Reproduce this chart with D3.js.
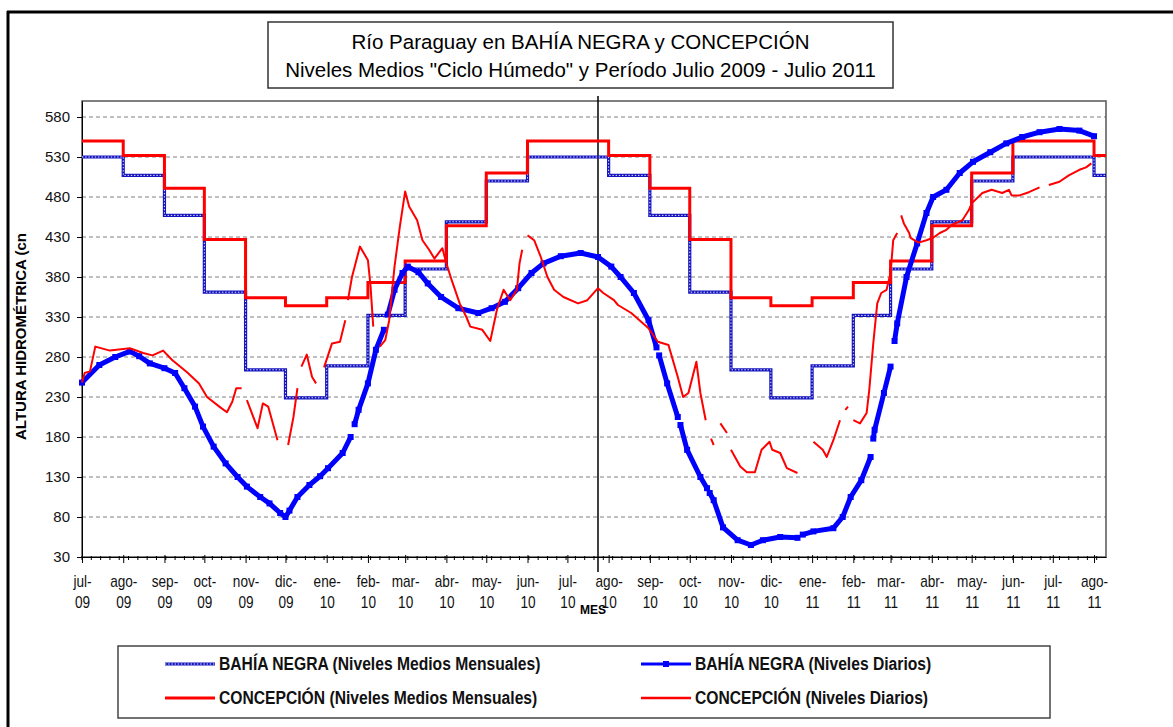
<!DOCTYPE html>
<html>
<head>
<meta charset="utf-8">
<title>Río Paraguay en Bahía Negra y Concepción</title>
<script src="https://d3js.org/d3.v7.min.js"></script>
<style>
  body { margin: 0; background: #fff; }
  svg { display: block; font-family: "Liberation Sans", Arial, sans-serif; }
</style>
</head>
<body>
<svg id="chart" width="1173" height="727"></svg>
<script>
// tick labels
const xTickLabels = ["jul-09","ago-09","sep-09","oct-09","nov-09","dic-09","ene-10","feb-10","mar-10","abr-10","may-10","jun-10",
  "jul-10","ago-10","sep-10","oct-10","nov-10","dic-10","ene-11","feb-11","mar-11","abr-11","may-11","jun-11","jul-11","ago-11"];
const yTicks = [30, 80, 130, 180, 230, 280, 330, 380, 430, 480, 530, 580];

// monthly mean levels ("ciclo húmedo"), one value per month from jul-09
const bahiaMonthly = [530,507,457,361,264,229,269,332,390,449,500,530,530,507,457,361,264,229,269,332,390,449,500,530,530,507];
const concepMonthly = [550,532,491,427,354,344,354,373,400,444,510,550,550,532,491,427,354,344,354,373,400,444,510,550,550,532];

// daily levels (null = gap)
const bahiaDaily = [
  ["2009-07-01",248],["2009-07-14",270],["2009-07-26",280],["2009-08-06",287],["2009-08-13",281],["2009-08-21",272],
  ["2009-09-01",266],["2009-09-09",260],["2009-09-16",241],["2009-09-24",218],["2009-09-30",193],["2009-10-08",168],
  ["2009-10-17",147],["2009-10-26",130],["2009-11-02",118],["2009-11-12",105],["2009-11-19",97],["2009-11-27",85],
  ["2009-12-01",80],["2009-12-04",88],["2009-12-10",105],["2009-12-19",120],["2009-12-27",131],["2010-01-02",141],
  ["2010-01-13",160],["2010-01-19",180],["2010-01-20",null],["2010-01-22",196],["2010-01-25",214],["2010-02-01",247],
  ["2010-02-07",289],["2010-02-13",314],["2010-02-14",null],["2010-02-16",333],["2010-02-21",364],["2010-02-27",385],
  ["2010-03-03",393],["2010-03-11",386],["2010-03-18",372],["2010-03-28",355],["2010-04-10",341],["2010-04-25",335],
  ["2010-05-05",341],["2010-05-15",349],["2010-05-25",366],["2010-06-04",385],["2010-06-13",397],["2010-06-26",406],
  ["2010-07-11",410],["2010-07-24",405],["2010-08-03",393],["2010-08-10",380],["2010-08-20",360],["2010-08-31",326],
  ["2010-09-06",292],["2010-09-07",null],["2010-09-08",282],["2010-09-14",247],["2010-09-22",205],["2010-09-23",null],
  ["2010-09-24",195],["2010-09-29",164],["2010-10-09",130],["2010-10-14",116],["2010-10-15",null],["2010-10-16",110],
  ["2010-10-19",101],["2010-10-26",67],["2010-11-06",51],["2010-11-16",45],["2010-11-25",51],["2010-12-08",55],
  ["2010-12-21",54],["2010-12-23",null],["2010-12-25",58],["2011-01-02",62],["2011-01-17",66],["2011-01-24",80],
  ["2011-01-30",105],["2011-02-07",126],["2011-02-14",155],["2011-02-15",null],["2011-02-16",178],["2011-02-17",189],
  ["2011-02-24",235],["2011-03-01",268],["2011-03-02",null],["2011-03-04",300],["2011-03-06",322],["2011-03-13",380],
  ["2011-03-21",422],["2011-03-28",460],["2011-04-02",480],["2011-04-12",489],["2011-04-22",510],["2011-05-02",524],
  ["2011-05-15",536],["2011-05-27",547],["2011-06-08",555],["2011-06-21",561],["2011-07-06",565],["2011-07-21",563],
  ["2011-08-01",556]
];
const concepDaily = [
  ["2009-07-01",248],["2009-07-03",260],["2009-07-07",262],["2009-07-11",293],["2009-07-22",288],["2009-08-06",291],
  ["2009-08-16",285],["2009-08-23",282],["2009-08-31",288],["2009-09-07",276],["2009-09-18",261],["2009-09-27",247],
  ["2009-10-03",230],["2009-10-13",217],["2009-10-18",211],["2009-10-22",224],["2009-10-25",241],["2009-10-29",241],
  ["2009-10-31",null],["2009-11-02",226],["2009-11-10",191],["2009-11-14",222],["2009-11-18",218],["2009-11-25",176],
  ["2009-11-29",null],["2009-12-03",170],["2009-12-07",205],["2009-12-10",241],["2009-12-11",null],["2009-12-13",268],
  ["2009-12-17",283],["2009-12-21",255],["2009-12-24",247],["2009-12-27",null],["2009-12-30",267],["2010-01-05",297],
  ["2010-01-11",299],["2010-01-15",326],["2010-01-16",null],["2010-01-17",351],["2010-01-20",380],["2010-01-26",418],
  ["2010-02-01",401],["2010-02-03",368],["2010-02-05",318],["2010-02-07",null],["2010-02-10",293],["2010-02-14",301],
  ["2010-02-17",326],["2010-02-21",393],["2010-02-25",443],["2010-03-01",487],["2010-03-04",468],["2010-03-10",451],
  ["2010-03-14",426],["2010-03-19",414],["2010-03-23",403],["2010-03-29",416],["2010-04-01",397],["2010-04-05",376],
  ["2010-04-11",347],["2010-04-16",330],["2010-04-19",318],["2010-04-28",314],["2010-05-04",300],["2010-05-09",339],
  ["2010-05-14",364],["2010-05-19",351],["2010-05-24",364],["2010-05-26",397],["2010-05-28",414],["2010-05-30",null],
  ["2010-06-01",432],["2010-06-06",426],["2010-06-11",405],["2010-06-16",380],["2010-06-21",364],["2010-06-28",355],
  ["2010-07-09",347],["2010-07-16",351],["2010-07-24",366],["2010-07-28",360],["2010-08-05",351],["2010-08-08",345],
  ["2010-08-18",335],["2010-08-31",316],["2010-09-07",299],["2010-09-15",295],["2010-09-22",255],["2010-09-26",230],
  ["2010-09-30",235],["2010-10-06",274],["2010-10-09",235],["2010-10-13",201],["2010-10-15",null],["2010-10-17",178],
  ["2010-10-19",170],["2010-10-21",null],["2010-10-24",197],["2010-10-29",185],["2010-10-30",null],["2010-11-01",164],
  ["2010-11-08",143],["2010-11-13",136],["2010-11-19",136],["2010-11-24",164],["2010-11-30",174],["2010-12-02",164],
  ["2010-12-08",160],["2010-12-13",141],["2010-12-21",135],["2010-12-27",null],["2011-01-02",174],["2011-01-09",164],
  ["2011-01-12",155],["2011-01-17",176],["2011-01-22",201],["2011-01-24",null],["2011-01-26",214],["2011-01-28",218],
  ["2011-01-30",null],["2011-02-01",201],["2011-02-06",197],["2011-02-11",210],["2011-02-13",239],["2011-02-16",297],
  ["2011-02-19",347],["2011-02-22",360],["2011-02-26",364],["2011-03-01",385],["2011-03-03",426],["2011-03-06",435],
  ["2011-03-07",null],["2011-03-09",457],["2011-03-11",447],["2011-03-15",435],["2011-03-16",429],["2011-03-22",423],
  ["2011-03-28",426],["2011-04-02",429],["2011-04-07",435],["2011-04-12",439],["2011-04-16",445],["2011-04-24",451],
  ["2011-04-29",464],["2011-05-01",472],["2011-05-09",485],["2011-05-16",489],["2011-05-24",485],["2011-05-29",489],
  ["2011-05-31",482],["2011-06-06",482],["2011-06-13",486],["2011-06-21",492],["2011-06-24",null],["2011-06-28",495],
  ["2011-07-06",499],["2011-07-13",507],["2011-07-21",514],["2011-07-26",517],["2011-07-30",522]
];

// layout
const svg = d3.select("#chart");
const parse = d3.timeParse("%Y-%m-%d");
const start = parse("2009-07-01"), end = parse("2011-08-10");
const plot = { left: 82, right: 1106, top: 101, bottom: 557 };

const x = d3.scaleTime().domain([start, end]).range([plot.left, plot.right]);
const y = d3.scaleLinear().domain([30, 600]).range([plot.bottom, plot.top]);
const monthStarts = d3.timeMonth.range(start, d3.timeDay.offset(parse("2011-08-01"), 1));

svg.append("rect").attr("width", 1173).attr("height", 727).attr("fill", "#fff");

// outer frame (top and left edges only visible)
svg.append("line").attr("x1", 7).attr("x2", 1173).attr("y1", 12).attr("y2", 12)
  .attr("stroke", "#000").attr("stroke-width", 3);
svg.append("line").attr("x1", 8).attr("x2", 8).attr("y1", 11).attr("y2", 727)
  .attr("stroke", "#000").attr("stroke-width", 3);

// title box
svg.append("rect").attr("x", 268).attr("y", 22).attr("width", 625).attr("height", 66)
  .attr("fill", "#fff").attr("stroke", "#333").attr("stroke-width", 1.5);
svg.append("text").attr("x", 580.5).attr("y", 49).attr("text-anchor", "middle")
  .attr("font-size", 20.5).text("Río Paraguay en BAHÍA NEGRA y CONCEPCIÓN");
svg.append("text").attr("x", 580.5).attr("y", 77).attr("text-anchor", "middle")
  .attr("font-size", 20.5).text("Niveles Medios \"Ciclo Húmedo\" y Período Julio 2009 - Julio 2011");

// gridlines
svg.append("g").selectAll("line").data(yTicks.slice(1)).join("line")
  .attr("x1", plot.left).attr("x2", plot.right)
  .attr("y1", d => y(d)).attr("y2", d => y(d))
  .attr("stroke", "#808080").attr("stroke-dasharray", "4,3");

// plot frame
svg.append("rect").attr("x", plot.left).attr("y", plot.top)
  .attr("width", plot.right - plot.left).attr("height", plot.bottom - plot.top)
  .attr("fill", "none").attr("stroke", "#555").attr("stroke-width", 1.5);

// y axis
const yAxis = d3.axisLeft(y).tickValues(yTicks).tickSize(5).tickPadding(7).tickSizeOuter(0);
const yAxisGroup = svg.append("g").attr("transform", "translate(" + plot.left + ",0)").call(yAxis);
yAxisGroup.select(".domain").attr("stroke", "#000");
yAxisGroup.selectAll("text").attr("font-size", 15).attr("fill", "#111").attr("font-family", "Liberation Sans, Arial, sans-serif");

svg.append("text")
  .attr("transform", "translate(26,440) rotate(-90)")
  .attr("font-size", 15).attr("font-weight", "bold")
  .text("ALTURA HIDROMÉTRICA (cn");

// x axis with weekly minor ticks
const weeks = d3.range(0, 770, 7).map(k => d3.timeDay.offset(start, k));
svg.append("g").selectAll("line").data(weeks).join("line")
  .attr("x1", d => x(d)).attr("x2", d => x(d))
  .attr("y1", plot.bottom - 1).attr("y2", plot.bottom + 3)
  .attr("stroke", "#000");
const xAxis = d3.axisBottom(x).tickValues(monthStarts).tickSize(6).tickFormat("").tickSizeOuter(0);
const xAxisGroup = svg.append("g").attr("transform", "translate(0," + plot.bottom + ")").call(xAxis);
xAxisGroup.select(".domain").attr("stroke", "#000").attr("stroke-width", 1.2);
xAxisGroup.selectAll(".tick line").attr("y1", -2);
xAxisGroup.selectAll(".tick").each(function(d, i) {
  const parts = xTickLabels[i].split("-");
  const t = d3.select(this).append("g").attr("transform", "scale(0.85,1)");
  t.append("text").attr("y", 30).attr("text-anchor", "middle").attr("font-size", 16)
    .attr("fill", "#111").text(parts[0] + "-");
  t.append("text").attr("y", 51).attr("text-anchor", "middle").attr("font-size", 16)
    .attr("fill", "#111").text(parts[1]);
});

// marker line at end of first cycle
const split = parse("2010-07-24");
svg.append("line").attr("x1", x(split)).attr("x2", x(split)).attr("y1", 96).attr("y2", 572)
  .attr("stroke", "#000").attr("stroke-width", 1.5);
svg.append("text").attr("x", x(split) - 5).attr("y", 614).attr("text-anchor", "middle")
  .attr("font-size", 12).attr("font-weight", "bold").text("MES");

// series
const stepLine = d3.line().x(d => x(d[0])).y(d => y(d[1])).curve(d3.curveStepAfter);
const dailyLine = d3.line().defined(d => d[1] != null).x(d => x(d[0])).y(d => y(d[1]));
function steps(vals) {
  const pts = monthStarts.map((d, i) => [d, vals[i]]);
  pts.push([end, vals[vals.length - 1]]);
  return pts;
}
const bnDaily = bahiaDaily.map(d => [parse(d[0]), d[1]]);
const cnDaily = concepDaily.map(d => [parse(d[0]), d[1]]);

const plotArea = svg.append("g");
// Bahía Negra monthly (dotted blue)
plotArea.append("path").attr("d", stepLine(steps(bahiaMonthly)))
  .attr("fill", "none").attr("stroke", "#1414c0").attr("stroke-width", 3.2);
plotArea.append("path").attr("d", stepLine(steps(bahiaMonthly)))
  .attr("fill", "none").attr("stroke", "#fff").attr("stroke-width", 0.9).attr("stroke-dasharray", "1.4,1.8");
// Concepción monthly
plotArea.append("path").attr("d", stepLine(steps(concepMonthly)))
  .attr("fill", "none").attr("stroke", "#ff0000").attr("stroke-width", 3);
// Bahía Negra daily
plotArea.append("path").attr("d", dailyLine(bnDaily))
  .attr("fill", "none").attr("stroke", "#0000ff").attr("stroke-width", 5).attr("stroke-linejoin", "round");
plotArea.append("g").selectAll("rect").data(bnDaily.filter(d => d[1] != null)).join("rect")
  .attr("x", d => x(d[0]) - 3).attr("y", d => y(d[1]) - 3).attr("width", 6).attr("height", 6)
  .attr("fill", "#0000ff");
// Concepción daily
plotArea.append("path").attr("d", dailyLine(cnDaily))
  .attr("fill", "none").attr("stroke", "#ff0000").attr("stroke-width", 2).attr("stroke-linejoin", "round");

// legend
const legend = svg.append("g");
legend.append("rect").attr("x", 118).attr("y", 646).attr("width", 932).attr("height", 72)
  .attr("fill", "#fff").attr("stroke", "#444").attr("stroke-width", 1.5);
const legendItems = [
  { label: "BAHÍA NEGRA (Niveles Medios Mensuales)", x: 165, y: 664, kind: "bm" },
  { label: "BAHÍA NEGRA (Niveles Diarios)", x: 641, y: 664, kind: "bd" },
  { label: "CONCEPCIÓN (Niveles Medios Mensuales)", x: 165, y: 698, kind: "cm" },
  { label: "CONCEPCIÓN (Niveles Diarios)", x: 641, y: 698, kind: "cd" }
];
legendItems.forEach(function(d) {
  const g = legend.append("g").attr("transform", "translate(" + d.x + "," + d.y + ")");
  if (d.kind == "bm") {
    g.append("line").attr("x2", 50).attr("stroke", "#1414c0").attr("stroke-width", 3.2);
    g.append("line").attr("x2", 50).attr("stroke", "#fff").attr("stroke-width", 0.9).attr("stroke-dasharray", "1.4,1.8");
  } else if (d.kind == "bd") {
    g.append("line").attr("x2", 50).attr("stroke", "#0000ff").attr("stroke-width", 3);
    g.append("rect").attr("x", 22).attr("y", -3).attr("width", 6).attr("height", 6).attr("fill", "#0000ff");
  } else {
    g.append("line").attr("x2", 50).attr("stroke", "#ff0000").attr("stroke-width", d.kind == "cm" ? 3 : 2.5);
  }
  g.append("text").attr("transform", "translate(54,0) scale(0.87,1)").attr("dy", "0.36em")
    .attr("font-size", 18).attr("font-weight", "bold").attr("fill", "#111").text(d.label);
});
</script>
</body>
</html>
